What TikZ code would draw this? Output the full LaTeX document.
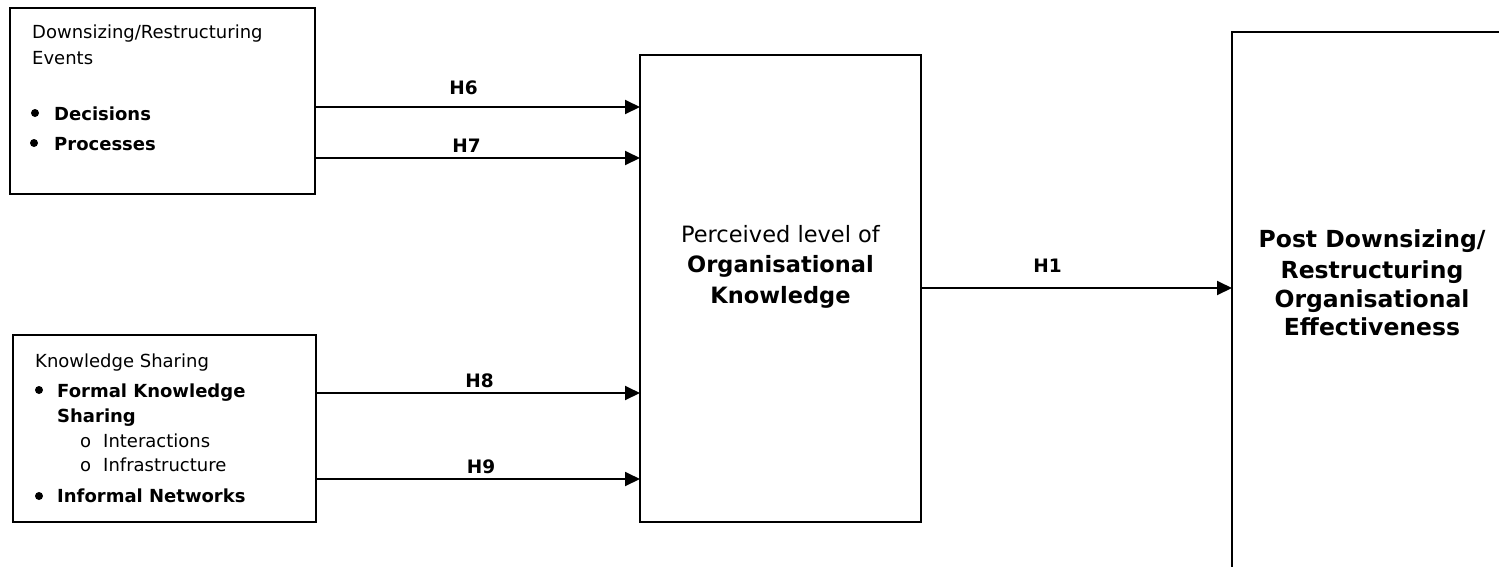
\documentclass[tikz,border=0pt]{standalone}
\usepackage{fontspec}
\setmainfont{DejaVu Sans}
\usetikzlibrary{arrows.meta}
\begin{document}
\begin{tikzpicture}[x=1pt,y=-1pt,
  box/.style={draw, line width=2pt, inner sep=0pt, outer sep=0pt, rectangle},
  arr/.style={line width=1.9pt, -{Triangle[length=15pt,width=14pt]}},
  sm/.style={inner sep=0pt, anchor=base west, font=\fontsize{18}{22}\selectfont},
  smb/.style={sm, font=\fontsize{18}{22}\selectfont\bfseries},
  hl/.style={inner sep=0pt, anchor=base, font=\fontsize{18.5}{22}\selectfont\bfseries},
  big/.style={inner sep=0pt, anchor=base, font=\fontsize{22.5}{27}\selectfont},
  bigb/.style={big, font=\fontsize{22.5}{27}\selectfont\bfseries},
  bigr/.style={big, font=\fontsize{23.5}{28}\selectfont\bfseries},
  dot/.style={circle, fill, inner sep=0pt, minimum size=8pt},
]
\useasboundingbox (0,0) rectangle (1499,566);
\clip (0,0) rectangle (1499,566);

% boxes
\node[box, minimum width=305pt, minimum height=186pt, anchor=north west] (ev) at (10,8) {};
\node[box, minimum width=303pt, minimum height=187pt, anchor=north west] (ks) at (13,335) {};
\node[box, minimum width=281pt, minimum height=467pt, anchor=north west] (pk) at (640,55) {};
\node[box, minimum width=280pt, minimum height=640pt, anchor=north west] (eff) at (1232,32) {};

% downsizing / restructuring events
\node[sm] (ev1) at (32,38) {Downsizing/Restructuring};
\node[sm] (ev2) at (32,64) {Events};
\node[dot] (evd1) at (35,113) {};
\node[smb] (ev3) at (54,120) {Decisions};
\node[dot] (evd2) at (34,143) {};
\node[smb] (ev4) at (54,150) {Processes};

% knowledge sharing
\node[sm] (ks0) at (35,367) {Knowledge Sharing};
\node[dot] (ksd1) at (39,390) {};
\node[smb] (ks1) at (57,397) {Formal Knowledge};
\node[smb] (ks2) at (57,422) {Sharing};
\node[sm] (kso1) at (80,447) {o};
\node[sm] (ks3) at (103,447) {Interactions};
\node[sm] (kso2) at (80,471) {o};
\node[sm] (ks4) at (103,471) {Infrastructure};
\node[dot] (ksd2) at (39,496) {};
\node[smb] (ks5) at (57,502) {Informal Networks};

% organisational knowledge
\node[big] (pk1) at (pk.center |- 0,242) {Perceived level of};
\node[bigb] (pk2) at (pk.center |- 0,272) {Organisational};
\node[bigb] (pk3) at (pk.center |- 0,303) {Knowledge};

% effectiveness
\node[bigr] (ef1) at (eff.center |- 0,247) {Post Downsizing/};
\node[bigr] (ef2) at (eff.center |- 0,278) {Restructuring};
\node[bigr] (ef3) at (eff.center |- 0,307) {Organisational};
\node[bigr] (ef4) at (eff.center |- 0,335) {Effectiveness};

% hypotheses
\draw[arr] (ev.east |- 0,107) -- (pk.west |- 0,107);
\draw[arr] (ev.east |- 0,158) -- (pk.west |- 0,158);
\draw[arr] (ks.east |- 0,393) -- (pk.west |- 0,393);
\draw[arr] (ks.east |- 0,479) -- (pk.west |- 0,479);
\draw[arr] (pk.east |- 0,288) -- (eff.west |- 0,288);

\node[hl] (h6) at (463.5,94) {H6};
\node[hl] (h7) at (466.5,152) {H7};
\node[hl] (h8) at (479.5,387) {H8};
\node[hl] (h9) at (481,473) {H9};
\node[hl] (h1) at (1047.5,272) {H1};
\end{tikzpicture}
\end{document}
